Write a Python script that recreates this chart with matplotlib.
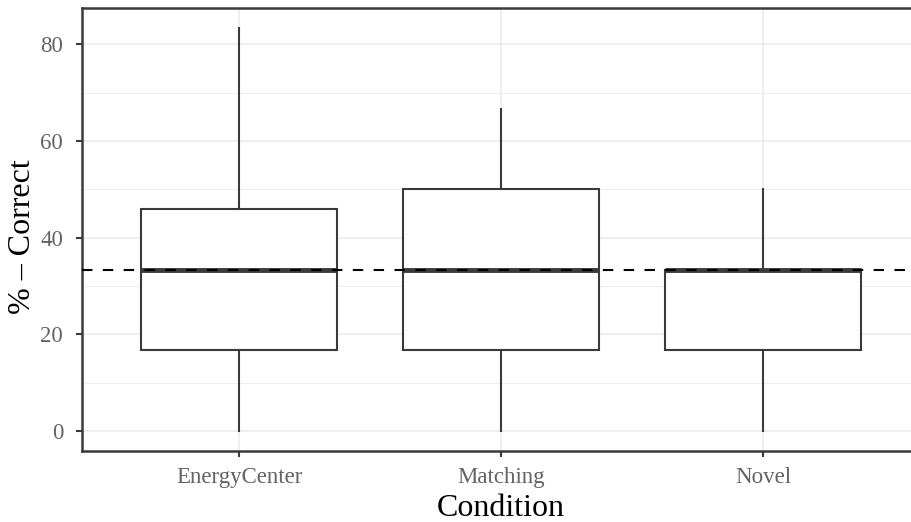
import matplotlib
matplotlib.use("Agg")
import matplotlib.pyplot as plt

plt.rcParams['font.family'] = ['Liberation Serif', 'DejaVu Serif']

conditions = ["EnergyCenter", "Matching", "Novel"]
whisker_low = [0.0, 0.0, 0.0]
q1 = [16.67, 16.67, 16.67]
median = [33.33, 33.33, 33.33]
q3 = [45.83, 50.0, 33.33]
whisker_high = [83.33, 66.67, 50.0]
chance = 100 / 3

stats = []
for name, lo, a, m, b, hi in zip(conditions, whisker_low, q1, median, q3, whisker_high):
    stats.append({"label": name, "whislo": lo, "q1": a, "med": m, "q3": b,
                  "whishi": hi, "fliers": []})

fig = plt.figure(figsize=(9.12, 5.22), dpi=100)
# panel runs past the right edge, like the cropped original
pw, ph = 920 - 82, 451 - 8
ax = fig.add_axes([82 / 912, 1 - 451 / 522, pw / 912, ph / 522])

dark = "#3a3a3a"
pos = [1, 2, 3]
ax.bxp(stats, positions=pos, widths=0.75, showfliers=False, showcaps=False,
       patch_artist=True,
       boxprops=dict(facecolor="white", edgecolor=dark, linewidth=1.5),
       whiskerprops=dict(color=dark, linewidth=1.5),
       medianprops=dict(color=dark, linewidth=3.5, solid_capstyle="butt"),
       zorder=3)
ax.axhline(chance, color="black", linestyle=(0, (5, 5)), linewidth=1.5, zorder=4)

ax.set_xlim(0.4, 3.6)
ax.set_ylim(-4.17, 87.5)
ax.set_yticks([0, 20, 40, 60, 80])
ax.set_yticks([10, 30, 50, 70], minor=True)
ax.set_xticks(pos)
ax.set_xticklabels(conditions)

ax.grid(which="major", color="#EBEBEB", linewidth=1.1, zorder=0)
ax.grid(which="minor", axis="y", color="#EBEBEB", linewidth=0.6, zorder=0)
ax.set_axisbelow(True)
for s in ax.spines.values():
    s.set_color(dark)
    s.set_linewidth(1.8)
ax.tick_params(which="major", length=4.5, width=1.5, color=dark,
               labelcolor="#636363", labelsize=16.5)
ax.tick_params(axis="x", pad=7)
ax.tick_params(axis="y", pad=9)
ax.tick_params(which="minor", length=0)

ax.set_xlabel("Condition", fontsize=23, color="black")
ax.set_ylabel("% – Correct", fontsize=23, color="black")
ax.xaxis.label.set_va("center")
ax.yaxis.label.set_va("center")
ax.xaxis.set_label_coords((501 - 82) / pw, (451 - 509) / ph)
ax.yaxis.set_label_coords((23 - 82) / pw, (451 - 237) / ph)

fig.savefig("out.png", dpi=100, facecolor="white")
